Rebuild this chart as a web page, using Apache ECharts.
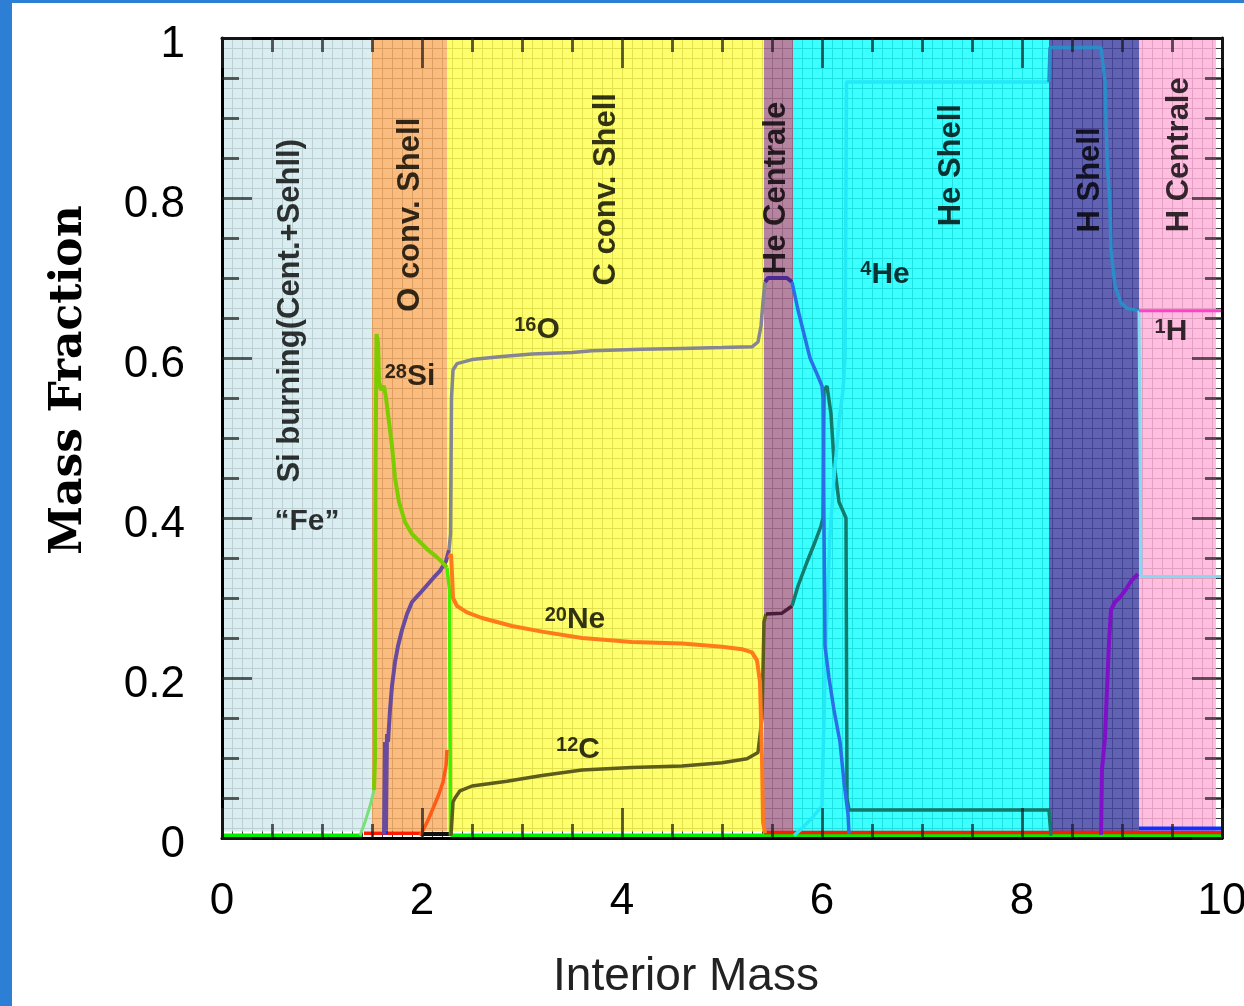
<!DOCTYPE html>
<html><head><meta charset="utf-8">
<script src="https://cdn.jsdelivr.net/npm/echarts/dist/echarts.min.js"></script>
<style>html,body{margin:0;padding:0;background:#fff}#c{width:1244px;height:1006px}</style>
</head><body><div id="c"></div>
<script>
// ---------- DATA ----------
const yTickLabels = ['0', '0.2', '0.4', '0.6', '0.8', '1'];
const regionNames = ['Si burning(Cent.+Sehll)', 'O conv. Shell', 'C conv. Shell', 'He Centrale', 'He Shell', 'H Shell', 'H Centrale'];
const regionEdges = [0, 1.5, 2.25, 5.42, 5.71, 8.27, 9.17, 9.94];
const regionLabelPos = [[0.68, 0.659], [1.88, 0.779], [3.84, 0.811], [5.54, 0.8125], [7.29, 0.841], [8.68, 0.8225], [9.57, 0.854]];
const isoSup = ['', '28', '16', '4', '1', '20', '12'];
const isoName = ['\u201CFe\u201D', 'Si', 'O', 'He', 'H', 'Ne', 'C'];
const isoPos = [[0.85, 0.395], [1.88, 0.576], [3.15, 0.635], [6.63, 0.704], [9.49, 0.6325], [3.53, 0.2725], [3.56, 0.11]];

// baselines (species at ~0)
const cyanBase = [[2.30, 0.0], [3.10, 0.0]];
const greenBaseA = [[0, 0.003], [1.40, 0.003]];
const greenBaseB = [[2.285, 0.003], [10, 0.003]];
const redBaseA = [[1.42, 0.006], [1.98, 0.006]];
const redBaseB = [[5.42, 0.007], [10, 0.007]];
const blackBase = [[1.98, 0.005], [2.29, 0.005]];
const blueBaseA = [[1.60, 0.007], [1.66, 0.007]];
const blueBaseB = [[9.17, 0.012], [10, 0.012]];

// 28Si
const si28Foot = [[1.38, 0.003], [1.43, 0.02], [1.48, 0.04], [1.52, 0.06]];
const si28 = [[1.52, 0.06], [1.53, 0.10], [1.535, 0.45], [1.545, 0.63], [1.56, 0.62], [1.57, 0.57], [1.59, 0.56], [1.62, 0.565], [1.64, 0.55],
  [1.67, 0.52], [1.70, 0.49], [1.73, 0.45], [1.77, 0.42], [1.83, 0.395], [1.90, 0.38], [1.98, 0.37], [2.06, 0.36], [2.14, 0.352], [2.20, 0.345], [2.25, 0.338]];
const si28Drop = [[2.25, 0.338], [2.275, 0.31], [2.285, 0.003]];

// 16O
const o16Inner = [[1.62, 0.005], [1.63, 0.12], [1.64, 0.01], [1.65, 0.13], [1.66, 0.12], [1.68, 0.16], [1.70, 0.19], [1.73, 0.22], [1.76, 0.24], [1.80, 0.26],
  [1.85, 0.28], [1.90, 0.295], [1.98, 0.306], [2.05, 0.316], [2.12, 0.326], [2.18, 0.334], [2.24, 0.346], [2.27, 0.36]];
const o16C = [[2.27, 0.36], [2.285, 0.38], [2.295, 0.55], [2.31, 0.585], [2.35, 0.593], [2.5, 0.598], [2.8, 0.602], [3.1, 0.605], [3.5, 0.607],
  [3.7, 0.609], [4.2, 0.611], [4.6, 0.612], [5.0, 0.613], [5.3, 0.614], [5.36, 0.62], [5.39, 0.64], [5.41, 0.67], [5.43, 0.695]];
const o16HeC = [[5.43, 0.695], [5.46, 0.70], [5.65, 0.70], [5.70, 0.695]];
const o16HeS = [[5.70, 0.695], [5.76, 0.66], [5.82, 0.63], [5.88, 0.60], [5.95, 0.58], [6.0, 0.565], [6.01, 0.55], [6.03, 0.24],
  [6.07, 0.20], [6.12, 0.16], [6.18, 0.12], [6.22, 0.07], [6.26, 0.03], [6.27, 0.005]];

// 12C
const c12C = [[2.29, 0.003], [2.31, 0.045], [2.33, 0.05], [2.38, 0.059], [2.5, 0.065], [2.85, 0.071], [3.2, 0.078], [3.6, 0.085], [4.1, 0.088],
  [4.6, 0.09], [5.0, 0.094], [5.25, 0.099], [5.36, 0.107], [5.40, 0.15], [5.42, 0.27], [5.44, 0.28]];
const c12HeC = [[5.44, 0.28], [5.6, 0.281], [5.70, 0.29]];
const c12HeS = [[5.70, 0.29], [5.76, 0.315], [5.85, 0.345], [5.93, 0.37], [5.99, 0.39], [6.01, 0.40], [6.02, 0.56], [6.05, 0.565], [6.09, 0.53],
  [6.12, 0.47], [6.17, 0.42], [6.24, 0.40], [6.25, 0.05], [6.27, 0.035], [8.27, 0.035], [8.29, 0.003]];

// 20Ne
const ne20O = [[1.98, 0.003], [2.02, 0.012], [2.07, 0.025], [2.12, 0.04], [2.17, 0.055], [2.21, 0.07], [2.24, 0.09], [2.25, 0.11]];
const ne20C = [[2.27, 0.35], [2.29, 0.355], [2.30, 0.33], [2.31, 0.30], [2.35, 0.29], [2.45, 0.282], [2.6, 0.275], [2.9, 0.265], [3.2, 0.258],
  [3.6, 0.25], [4.1, 0.245], [4.6, 0.243], [5.0, 0.239], [5.2, 0.236], [5.3, 0.232], [5.35, 0.222], [5.38, 0.195], [5.40, 0.10], [5.41, 0.02], [5.43, 0.006]];

// 4He
const he4HeS = [[5.72, 0.003], [5.8, 0.012], [5.9, 0.025], [6.0, 0.04], [6.01, 0.10], [6.04, 0.25], [6.08, 0.38], [6.12, 0.45], [6.17, 0.52],
  [6.21, 0.56], [6.23, 0.60], [6.245, 0.945], [8.27, 0.945]];
const he4HS = [[8.27, 0.945], [8.28, 0.988], [8.79, 0.988], [8.83, 0.946], [8.85, 0.85], [8.88, 0.79], [8.89, 0.735], [8.93, 0.69], [8.99, 0.669],
  [9.05, 0.662], [9.17, 0.659]];
const he4HC = [[9.17, 0.659], [9.19, 0.659], [9.19, 0.327], [10, 0.327]];

// 1H
const h1HS = [[8.79, 0.004], [8.80, 0.086], [8.83, 0.126], [8.85, 0.186], [8.87, 0.245], [8.89, 0.285], [8.93, 0.295], [8.98, 0.301],
  [9.04, 0.311], [9.09, 0.321], [9.16, 0.33]];
const h1HC = [[9.17, 0.659], [10, 0.659]];

// ---------- STYLE ----------
const regionColors = ['#d4ebee', '#fab268', '#ffff54', '#a86e8f', '#1affff', '#4646a4', '#ffb3db'];
const gridLineColor = '#3a3a3a';
const tickColor = 'rgba(30,30,30,0.7)';

function line(data, color, width, z) {
  return {
    type: 'line', data: data, symbol: 'none', showSymbol: false, silent: true, clip: false,
    lineStyle: { color: color, width: width || 3.5 }, z: z || 3
  };
}

const series = [
  {
    type: 'line', data: [], silent: true, z: 1,
    markArea: {
      silent: true, z: 1,
      itemStyle: { opacity: 0.85 },
      data: regionNames.map((n, i) => [
        { xAxis: regionEdges[i], yAxis: 0.008, itemStyle: { color: regionColors[i], opacity: 0.85 } },
        { xAxis: regionEdges[i + 1], yAxis: 1 }
      ])
    }
  },
  line(cyanBase, '#00e6f0', 4),
  line(greenBaseA, '#00ee00', 4),
  line(greenBaseB, '#00ee00', 4),
  line(redBaseA, '#ff1a00', 3.5),
  line(redBaseB, '#ff1a00', 3.5),
  line(blackBase, '#111', 4),
  line(blueBaseA, '#1030ff', 4),
  line(blueBaseB, '#1030ff', 4),
  line(si28Foot, '#77e077', 3),
  line(o16Inner, '#6a4a9c', 4),
  line(si28, '#7ccc00', 4),
  line(si28Drop, '#44ee00', 3.5),
  line(ne20O, '#ff5a18', 3.5),
  line(c12C, '#5c5c1c', 3.5),
  line(ne20C, '#ff7a1a', 4),
  line(o16C, '#858594', 3.5),
  line(c12HeC, '#4a1c3c', 3.5),
  line(o16HeC, '#4a2a90', 4),
  line(c12HeS, '#137a6c', 3.5),
  line(he4HeS, '#22e8f8', 3.5),
  line(o16HeS, '#2a6fe8', 3.5),
  line(he4HS, '#2a8cc8', 3.5),
  line(he4HC, '#88d8f0', 3),
  line(h1HS, '#8010c8', 4),
  line(h1HC, '#ff40c8', 3),
  {
    type: 'scatter', symbolSize: 0, silent: true, z: 6,
    label: { show: true, position: 'inside', color: '#000', fontFamily: 'Liberation Sans', fontWeight: 'bold', fontSize: 31 },
    data: regionNames.map((n, i) => ({ value: regionLabelPos[i], label: { formatter: n, rotate: 90 } }))
  },
  {
    type: 'scatter', symbolSize: 0, silent: true, z: 6,
    label: {
      show: true, position: 'inside', color: '#000',
      rich: {
        s: { fontFamily: 'Liberation Sans', fontWeight: 'bold', fontSize: 20, verticalAlign: 'top', color: '#000' },
        m: { fontFamily: 'Liberation Sans', fontWeight: 'bold', fontSize: 30, color: '#000' }
      }
    },
    data: isoName.map((n, i) => ({
      value: isoPos[i],
      label: { formatter: (isoSup[i] ? '{s|' + isoSup[i] + '}' : '') + '{m|' + n + '}' }
    }))
  }
];

function tickAxis(position, interval, split, majorLen, minorLen) {
  const isY = position === 'left' || position === 'right';
  return {
    type: 'value', position: position, min: 0, max: isY ? 1 : 10, interval: interval, z: 5,
    axisLine: { show: true, onZero: false, lineStyle: { color: '#000', width: 3 } },
    axisTick: { show: true, inside: true, length: majorLen, lineStyle: { color: tickColor, width: 3 } },
    minorTick: { show: true, splitNumber: split, length: minorLen, lineStyle: { color: tickColor, width: 3 } },
    axisLabel: { show: false }, splitLine: { show: false }
  };
}

const option = {
  animation: false,
  backgroundColor: '#fff',
  grid: { left: 222, top: 38, right: 22, bottom: 168, outerBoundsMode: 'none', containLabel: false },
  graphic: [
    { type: 'rect', left: 0, top: 0, shape: { width: 12, height: 1006 }, style: { fill: '#2c7fd5' }, z: 100 },
    { type: 'rect', left: 0, top: 0, shape: { width: 1244, height: 3 }, style: { fill: '#2c7fd5' }, z: 100 }
  ],
  xAxis: [
    {
      type: 'value', position: 'bottom', min: 0, max: 10, interval: 2, z: 0,
      axisLine: { show: false, onZero: false }, axisTick: { show: false },
      axisLabel: { fontSize: 44, fontFamily: 'Liberation Sans', color: '#000', margin: 42 },
      splitLine: { show: true, lineStyle: { color: gridLineColor, width: 1 } },
      minorTick: { show: false, splitNumber: 20 },
      minorSplitLine: { show: true, lineStyle: { color: gridLineColor, width: 1 } },
      name: 'Interior Mass', nameLocation: 'middle', nameGap: 116,
      nameTextStyle: { fontSize: 46, fontFamily: 'Liberation Sans', color: '#222', padding: [0, 72, 0, 0] }
    },
    tickAxis('bottom', 2, 4, 30, 14),
    tickAxis('top', 2, 4, 30, 14)
  ],
  yAxis: [
    {
      type: 'value', position: 'left', min: 0, max: 1, interval: 0.2, z: 0,
      axisLine: { show: false, onZero: false }, axisTick: { show: false },
      axisLabel: {
        fontSize: 44, fontFamily: 'Liberation Sans', color: '#000', margin: 37,
        verticalAlign: 'top', lineHeight: 14,
        formatter: v => yTickLabels[Math.round(v / 0.2)]
      },
      splitLine: { show: true, lineStyle: { color: gridLineColor, width: 1 } },
      minorTick: { show: false, splitNumber: 16 },
      minorSplitLine: { show: true, lineStyle: { color: gridLineColor, width: 1 } },
      name: 'Mass Fraction', nameLocation: 'middle', nameGap: 130, nameRotate: 90,
      nameTextStyle: { fontSize: 44, fontFamily: 'DejaVu Serif', fontWeight: 'bold', color: '#000', padding: [0, 0, 0, 116] }
    },
    tickAxis('left', 0.2, 4, 30, 17),
    tickAxis('right', 0.2, 4, 30, 17)
  ],
  series: series
};

const chart = echarts.init(document.getElementById('c'), null, { renderer: 'canvas' });
chart.setOption(option);
</script></body></html>
